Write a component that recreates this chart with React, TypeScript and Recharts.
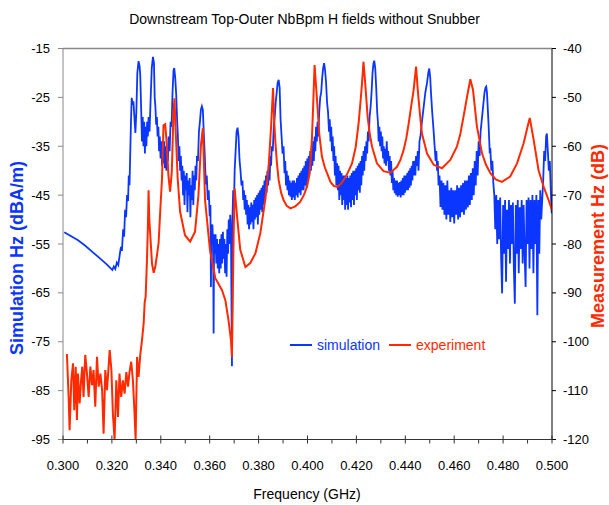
import { LineChart, Line, XAxis, YAxis, ReferenceLine, Legend } from 'recharts';

const BLUE = '#0a36ff';
const RED = '#ff2a00';

// frequency axis ticks (GHz), labels every 0.020
const freqTicks = [
  0.3, 0.31, 0.32, 0.33, 0.34, 0.35, 0.36, 0.37, 0.38, 0.39, 0.4,
  0.41, 0.42, 0.43, 0.44, 0.45, 0.46, 0.47, 0.48, 0.49, 0.5,
];
const simTicks = [-95, -85, -75, -65, -55, -45, -35, -25, -15];
const expTicks = [-120, -110, -100, -90, -80, -70, -60, -50, -40];

// simulation: [GHz, dBA/m]
const simulation: [number, number][] = [
  [0.3005,-52.6],[0.3030,-53.3],[0.3060,-54.2],[0.3090,-55.3],[0.3120,-56.6],[0.3150,-57.9],[0.3180,-59.2],[0.3195,-60.0],
  [0.3202,-60.3],[0.3208,-59.6],[0.3214,-60.1],[0.3220,-58.8],[0.3226,-59.3],[0.3232,-57.2],[0.3237,-55.6],[0.3241,-56.4],
  [0.3246,-52.0],[0.3250,-53.5],[0.3254,-48.0],[0.3258,-49.5],[0.3262,-45.0],[0.3266,-46.2],[0.3269,-41.0],[0.3272,-43.0],
  [0.3275,-36.5],[0.3278,-30.0],[0.3281,-25.1],[0.3285,-26.5],[0.3288,-25.8],[0.3292,-29.0],[0.3296,-32.3],[0.3300,-28.0],
  [0.3304,-20.0],[0.3309,-17.6],[0.3313,-18.5],[0.3316,-20.5],[0.3320,-28.0],[0.3323,-34.0],[0.3326,-29.0],[0.3329,-35.0],
  [0.3332,-30.0],[0.3335,-36.5],[0.3338,-31.0],[0.3341,-35.0],[0.3344,-30.0],[0.3347,-33.0],[0.3350,-29.0],[0.3354,-32.0],
  [0.3358,-26.0],[0.3363,-19.0],[0.3368,-16.7],[0.3372,-18.0],[0.3375,-25.0],[0.3378,-27.0],[0.3381,-30.6],[0.3384,-29.0],
  [0.3387,-33.0],[0.3390,-31.0],[0.3393,-36.0],[0.3396,-33.0],[0.3399,-37.5],[0.3402,-34.0],[0.3405,-39.0],[0.3408,-35.0],
  [0.3411,-38.5],[0.3414,-34.0],[0.3417,-39.5],[0.3420,-35.0],[0.3423,-40.0],[0.3426,-36.0],[0.3429,-38.0],[0.3432,-33.0],
  [0.3436,-36.0],[0.3440,-30.0],[0.3444,-31.0],[0.3448,-24.0],[0.3452,-19.5],[0.3455,-19.0],[0.3459,-21.0],[0.3463,-24.4],
  [0.3467,-30.0],[0.3470,-33.0],[0.3473,-38.0],[0.3476,-35.0],[0.3479,-40.0],[0.3482,-37.0],[0.3485,-42.0],[0.3488,-39.0],
  [0.3491,-45.0],[0.3494,-40.0],[0.3497,-47.0],[0.3500,-41.0],[0.3503,-44.0],[0.3506,-40.5],[0.3509,-48.5],[0.3512,-42.0],
  [0.3515,-45.0],[0.3518,-41.5],[0.3521,-49.5],[0.3524,-43.0],[0.3527,-46.0],[0.3530,-40.0],[0.3533,-47.0],[0.3536,-41.0],
  [0.3539,-44.0],[0.3542,-39.0],[0.3545,-42.0],[0.3548,-37.0],[0.3552,-38.0],[0.3556,-32.0],[0.3560,-30.0],[0.3564,-27.5],
  [0.3568,-26.8],[0.3572,-27.5],[0.3576,-32.6],[0.3580,-37.0],[0.3584,-42.8],[0.3588,-41.0],[0.3592,-46.0],[0.3596,-44.0],
  [0.3600,-49.3],[0.3603,-47.0],[0.3605,-63.8],[0.3607,-52.0],[0.3611,-51.0],[0.3614,-55.0],[0.3616,-73.3],[0.3618,-53.0],
  [0.3621,-57.0],[0.3624,-53.0],[0.3627,-59.0],[0.3630,-54.0],[0.3633,-60.0],[0.3636,-55.0],[0.3639,-61.0],[0.3642,-54.0],
  [0.3645,-60.0],[0.3648,-53.0],[0.3651,-59.0],[0.3654,-52.5],[0.3657,-58.0],[0.3660,-54.0],[0.3663,-61.0],[0.3666,-55.0],
  [0.3669,-61.7],[0.3672,-52.0],[0.3675,-57.0],[0.3678,-50.0],[0.3681,-55.0],[0.3684,-49.0],[0.3687,-53.0],[0.3691,-80.0],
  [0.3693,-50.0],[0.3696,-44.0],[0.3699,-48.0],[0.3702,-40.0],[0.3706,-36.0],[0.3710,-32.0],[0.3714,-31.2],[0.3718,-33.0],
  [0.3722,-37.8],[0.3726,-40.0],[0.3730,-43.0],[0.3734,-42.0],[0.3737,-46.0],[0.3740,-44.0],[0.3743,-48.0],[0.3746,-45.0],
  [0.3749,-49.0],[0.3752,-46.0],[0.3755,-51.0],[0.3758,-47.0],[0.3761,-52.0],[0.3764,-47.5],[0.3767,-51.0],[0.3770,-46.5],
  [0.3773,-50.5],[0.3776,-47.0],[0.3779,-52.0],[0.3782,-46.0],[0.3785,-50.0],[0.3788,-45.5],[0.3791,-49.5],[0.3794,-45.0],
  [0.3797,-51.0],[0.3800,-44.5],[0.3803,-49.0],[0.3806,-44.0],[0.3809,-48.0],[0.3812,-43.5],[0.3815,-48.5],[0.3818,-43.0],
  [0.3821,-47.0],[0.3824,-42.0],[0.3827,-46.0],[0.3830,-41.0],[0.3833,-44.5],[0.3836,-40.0],[0.3839,-43.0],[0.3842,-38.5],
  [0.3845,-42.0],[0.3848,-37.0],[0.3851,-39.0],[0.3854,-35.0],[0.3858,-36.0],[0.3862,-31.0],[0.3866,-29.0],[0.3870,-26.0],
  [0.3874,-24.0],[0.3878,-22.0],[0.3882,-21.4],[0.3886,-23.0],[0.3890,-29.6],[0.3894,-33.0],[0.3898,-36.5],[0.3902,-35.0],
  [0.3906,-40.5],[0.3909,-38.0],[0.3912,-43.0],[0.3915,-40.0],[0.3918,-44.0],[0.3921,-41.0],[0.3924,-45.0],[0.3927,-42.0],
  [0.3930,-45.3],[0.3933,-42.5],[0.3936,-46.0],[0.3939,-42.0],[0.3942,-45.5],[0.3945,-42.0],[0.3948,-46.0],[0.3951,-42.5],
  [0.3954,-45.0],[0.3957,-41.5],[0.3960,-45.5],[0.3963,-41.0],[0.3966,-44.5],[0.3969,-40.5],[0.3972,-45.0],[0.3975,-40.0],
  [0.3978,-44.0],[0.3981,-39.5],[0.3984,-44.0],[0.3987,-39.0],[0.3990,-43.0],[0.3993,-38.0],[0.3996,-43.5],[0.3999,-37.5],
  [0.4002,-42.0],[0.4005,-37.0],[0.4008,-41.0],[0.4011,-36.0],[0.4014,-40.0],[0.4017,-35.0],[0.4020,-39.0],[0.4023,-34.0],
  [0.4026,-38.0],[0.4029,-33.0],[0.4032,-36.0],[0.4035,-31.0],[0.4038,-34.0],[0.4041,-30.0],[0.4044,-33.0],[0.4048,-28.0],
  [0.4052,-25.0],[0.4056,-24.0],[0.4060,-21.0],[0.4064,-19.0],[0.4068,-18.0],[0.4072,-19.5],[0.4076,-22.0],[0.4080,-26.0],
  [0.4084,-28.0],[0.4088,-32.0],[0.4091,-29.5],[0.4094,-34.0],[0.4097,-31.0],[0.4100,-36.0],[0.4103,-33.0],[0.4106,-38.0],
  [0.4109,-35.0],[0.4112,-41.0],[0.4115,-37.0],[0.4118,-43.0],[0.4121,-38.5],[0.4124,-44.0],[0.4127,-39.0],[0.4130,-46.0],
  [0.4133,-40.0],[0.4136,-45.0],[0.4139,-40.5],[0.4142,-47.0],[0.4145,-41.0],[0.4148,-46.0],[0.4151,-41.0],[0.4154,-48.0],
  [0.4157,-41.5],[0.4160,-47.0],[0.4163,-41.0],[0.4166,-48.0],[0.4169,-41.5],[0.4172,-46.5],[0.4175,-41.0],[0.4178,-47.5],
  [0.4181,-40.5],[0.4184,-46.0],[0.4187,-40.0],[0.4190,-47.0],[0.4193,-40.0],[0.4196,-45.0],[0.4199,-39.5],[0.4202,-46.0],
  [0.4205,-39.0],[0.4208,-44.0],[0.4211,-38.5],[0.4214,-44.5],[0.4217,-38.0],[0.4220,-43.0],[0.4223,-37.0],[0.4226,-41.0],
  [0.4229,-36.0],[0.4232,-40.0],[0.4235,-35.0],[0.4238,-38.0],[0.4241,-34.0],[0.4244,-36.5],[0.4247,-32.0],[0.4250,-34.0],
  [0.4254,-29.0],[0.4258,-27.0],[0.4262,-24.0],[0.4266,-20.0],[0.4270,-18.0],[0.4273,-17.5],[0.4277,-19.0],[0.4281,-23.0],
  [0.4285,-28.0],[0.4288,-30.0],[0.4291,-34.0],[0.4294,-31.0],[0.4297,-35.0],[0.4300,-32.0],[0.4303,-36.0],[0.4306,-33.0],
  [0.4309,-37.5],[0.4312,-35.0],[0.4315,-38.5],[0.4318,-35.5],[0.4321,-39.0],[0.4324,-34.0],[0.4327,-38.0],[0.4330,-36.0],
  [0.4333,-40.0],[0.4336,-37.0],[0.4339,-41.0],[0.4342,-38.0],[0.4345,-42.5],[0.4348,-40.0],[0.4351,-44.0],[0.4354,-41.5],
  [0.4357,-44.6],[0.4360,-42.0],[0.4363,-45.0],[0.4366,-42.0],[0.4369,-45.3],[0.4372,-42.5],[0.4375,-45.0],[0.4378,-42.3],
  [0.4381,-45.5],[0.4384,-42.0],[0.4387,-45.0],[0.4390,-41.5],[0.4393,-45.0],[0.4396,-41.0],[0.4399,-44.5],[0.4402,-41.0],
  [0.4405,-44.0],[0.4408,-40.5],[0.4411,-44.0],[0.4414,-40.0],[0.4417,-43.5],[0.4420,-39.5],[0.4423,-43.0],[0.4426,-39.0],
  [0.4429,-42.0],[0.4432,-38.0],[0.4435,-41.0],[0.4438,-38.0],[0.4441,-41.0],[0.4444,-37.0],[0.4448,-39.0],[0.4451,-36.0],
  [0.4454,-40.0],[0.4458,-34.0],[0.4462,-33.0],[0.4468,-30.0],[0.4475,-27.0],[0.4482,-24.0],[0.4489,-22.0],[0.4494,-20.0],
  [0.4498,-19.1],[0.4502,-21.0],[0.4505,-24.0],[0.4510,-28.0],[0.4516,-32.0],[0.4520,-35.0],[0.4524,-38.0],[0.4527,-36.0],
  [0.4530,-40.0],[0.4533,-38.0],[0.4536,-43.0],[0.4540,-41.0],[0.4544,-47.4],[0.4548,-42.0],[0.4552,-48.0],[0.4556,-42.5],
  [0.4560,-49.0],[0.4564,-43.0],[0.4568,-50.0],[0.4572,-42.0],[0.4576,-49.0],[0.4580,-44.0],[0.4584,-50.5],[0.4588,-43.5],
  [0.4592,-49.5],[0.4596,-44.0],[0.4600,-50.8],[0.4604,-44.0],[0.4608,-49.0],[0.4612,-43.0],[0.4616,-50.0],[0.4620,-43.5],
  [0.4624,-49.5],[0.4628,-43.0],[0.4632,-48.5],[0.4636,-42.5],[0.4640,-49.0],[0.4644,-42.0],[0.4648,-48.0],[0.4652,-42.0],
  [0.4656,-47.5],[0.4660,-41.0],[0.4664,-47.0],[0.4668,-40.5],[0.4672,-46.0],[0.4676,-39.5],[0.4680,-45.0],[0.4684,-38.0],
  [0.4688,-43.0],[0.4692,-36.0],[0.4696,-41.0],[0.4700,-34.0],[0.4704,-37.0],[0.4708,-32.0],[0.4712,-30.0],[0.4716,-28.0],
  [0.4720,-26.0],[0.4724,-24.0],[0.4728,-23.0],[0.4731,-22.8],[0.4734,-24.0],[0.4737,-27.0],[0.4741,-31.0],[0.4745,-36.0],
  [0.4748,-35.8],[0.4752,-40.0],[0.4756,-38.0],[0.4760,-42.5],[0.4764,-45.0],[0.4768,-52.0],[0.4772,-45.0],[0.4776,-55.0],
  [0.4780,-46.0],[0.4784,-54.0],[0.4788,-45.5],[0.4792,-58.0],[0.4796,-65.1],[0.4800,-47.0],[0.4804,-57.0],[0.4808,-46.0],
  [0.4812,-62.7],[0.4816,-48.0],[0.4820,-56.0],[0.4824,-46.0],[0.4828,-59.0],[0.4832,-47.0],[0.4836,-55.0],[0.4840,-46.5],
  [0.4844,-60.0],[0.4848,-67.2],[0.4852,-47.0],[0.4856,-57.0],[0.4860,-46.0],[0.4864,-61.0],[0.4868,-47.5],[0.4872,-56.0],
  [0.4876,-46.0],[0.4880,-59.0],[0.4884,-47.0],[0.4888,-57.0],[0.4892,-63.8],[0.4896,-46.0],[0.4900,-55.0],[0.4904,-45.5],
  [0.4908,-60.0],[0.4912,-46.0],[0.4916,-56.0],[0.4920,-45.0],[0.4924,-61.0],[0.4928,-46.0],[0.4932,-55.0],[0.4936,-45.0],
  [0.4940,-69.6],[0.4944,-46.0],[0.4948,-57.0],[0.4952,-44.0],[0.4956,-50.0],[0.4960,-46.0],[0.4964,-42.0],[0.4968,-36.0],
  [0.4972,-38.0],[0.4976,-33.0],[0.4979,-32.4],[0.4983,-36.0],[0.4987,-40.0],[0.4991,-38.0],[0.4995,-44.0],[0.4999,-48.7],
];

// experiment: [GHz, dB]
const experiment: [number, number][] = [
  [0.3016,-102.5],[0.3023,-111.3],[0.3027,-118.1],[0.3034,-107.9],[0.3041,-104.4],[0.3046,-114.0],[0.3052,-105.1],[0.3057,-116.0],
  [0.3061,-106.5],[0.3068,-112.6],[0.3074,-107.9],[0.3079,-105.1],[0.3084,-111.3],[0.3091,-102.7],[0.3098,-106.5],[0.3105,-111.3],
  [0.3112,-105.1],[0.3119,-108.9],[0.3125,-105.8],[0.3132,-113.3],[0.3139,-103.1],[0.3146,-109.2],[0.3153,-106.5],[0.3160,-109.9],
  [0.3166,-118.8],[0.3173,-105.8],[0.3180,-109.9],[0.3191,-101.7],[0.3198,-105.8],[0.3204,-114.7],[0.3211,-120.0],[0.3218,-107.9],
  [0.3225,-115.4],[0.3231,-106.5],[0.3238,-111.3],[0.3245,-107.9],[0.3252,-110.6],[0.3259,-106.2],[0.3266,-109.2],[0.3272,-106.2],
  [0.3279,-104.1],[0.3286,-107.9],[0.3292,-114.0],[0.3297,-120.0],[0.3303,-103.1],[0.3309,-107.2],[0.3316,-102.7],[0.3323,-99.7],
  [0.3330,-96.2],[0.3334,-92.0],[0.3338,-90.8],[0.3343,-83.9],[0.3347,-77.0],[0.3350,-69.0],[0.3353,-75.0],[0.3358,-79.0],
  [0.3364,-84.0],[0.3371,-85.9],[0.3378,-84.5],[0.3385,-82.0],[0.3391,-79.8],[0.3398,-73.0],[0.3405,-66.6],[0.3411,-55.7],
  [0.3418,-55.5],[0.3425,-59.8],[0.3431,-65.9],[0.3438,-69.3],[0.3445,-65.2],[0.3452,-52.9],[0.3456,-50.2],[0.3461,-57.0],
  [0.3469,-66.6],[0.3479,-73.4],[0.3499,-78.2],[0.3520,-79.5],[0.3540,-77.5],[0.3554,-70.0],[0.3564,-59.8],[0.3572,-56.3],
  [0.3581,-71.0],[0.3601,-81.2],[0.3623,-87.0],[0.3650,-89.4],[0.3664,-91.5],[0.3677,-95.6],[0.3687,-99.7],[0.3691,-103.1],
  [0.3698,-77.8],[0.3702,-68.6],[0.3712,-74.4],[0.3725,-81.2],[0.3746,-84.7],[0.3766,-83.9],[0.3787,-81.9],[0.3807,-77.8],
  [0.3827,-71.0],[0.3841,-64.2],[0.3851,-56.0],[0.3859,-48.1],[0.3864,-55.0],[0.3868,-58.7],[0.3875,-63.5],[0.3882,-66.9],
  [0.3892,-69.5],[0.3902,-71.0],[0.3915,-72.2],[0.3930,-72.7],[0.3950,-72.3],[0.3970,-71.4],[0.3985,-70.0],[0.3998,-68.3],
  [0.4006,-66.3],[0.4012,-63.5],[0.4018,-58.5],[0.4023,-51.9],[0.4029,-43.4],[0.4034,-47.0],[0.4039,-50.5],[0.4048,-57.4],
  [0.4059,-62.1],[0.4070,-64.2],[0.4080,-65.5],[0.4094,-67.3],[0.4107,-68.1],[0.4121,-68.3],[0.4135,-67.8],[0.4148,-66.9],
  [0.4165,-65.4],[0.4182,-63.5],[0.4197,-60.2],[0.4209,-55.3],[0.4217,-50.8],[0.4223,-47.1],[0.4229,-42.7],[0.4236,-47.1],
  [0.4246,-54.0],[0.4255,-57.6],[0.4264,-60.1],[0.4284,-63.5],[0.4311,-65.1],[0.4339,-65.4],[0.4366,-64.2],[0.4380,-62.8],
  [0.4393,-60.8],[0.4404,-58.4],[0.4414,-55.3],[0.4425,-51.5],[0.4434,-48.5],[0.4444,-43.7],[0.4451,-48.5],[0.4460,-53.5],
  [0.4468,-57.4],[0.4489,-61.5],[0.4516,-63.8],[0.4550,-64.5],[0.4584,-62.8],[0.4611,-60.1],[0.4625,-57.5],[0.4638,-54.0],
  [0.4655,-49.2],[0.4666,-46.3],[0.4677,-48.5],[0.4693,-56.0],[0.4714,-61.5],[0.4730,-63.8],[0.4748,-65.5],[0.4770,-66.8],
  [0.4795,-67.3],[0.4829,-66.2],[0.4857,-63.5],[0.4884,-59.4],[0.4900,-56.0],[0.4909,-54.2],[0.4925,-58.7],[0.4945,-64.9],
  [0.4966,-68.3],[0.4986,-71.0],[0.5000,-73.1],
];

const simData = simulation.map(([x, y]) => ({ x, y }));
const expData = experiment.map(([x, y]) => ({ x, y }));

const FreqTick = (props: any) => {
  const { x, y, payload } = props;
  const major = Math.round(payload.value * 1000) % 20 === 0;
  return (
    <g>
      <line x1={x} x2={x} y1={major ? y - 4 : y} y2={y + 4} stroke="#333" />
      {major && (
        <text x={x} y={y + 30} textAnchor="middle" fontSize={13} fill="#000">
          {payload.value.toFixed(3)}
        </text>
      )}
    </g>
  );
};

const LegendBox = () => (
  <div style={{ display: 'flex', alignItems: 'center', fontSize: 14, whiteSpace: 'nowrap' }}>
    <svg width={24} height={4}><line x1={0} x2={22} y1={2} y2={2} stroke={BLUE} strokeWidth={2} /></svg>
    <span style={{ color: BLUE, marginLeft: 3, marginRight: 9 }}>simulation</span>
    <svg width={24} height={4}><line x1={0} x2={22} y1={2} y2={2} stroke={RED} strokeWidth={2} /></svg>
    <span style={{ color: RED, marginLeft: 3 }}>experiment</span>
  </div>
);

export default function App() {
  return (
    <div
      style={{
        position: 'absolute', left: 0, top: 0, width: 609, height: 505, background: '#fff',
        fontFamily: '"Liberation Sans", Arial, sans-serif',
      }}
    >
      <div style={{ position: 'absolute', left: 0, width: 609, top: 11, textAlign: 'center', fontSize: 14, color: '#000' }}>
        Downstream Top-Outer NbBpm H fields without Snubber
      </div>
      <LineChart width={609} height={505} margin={{ top: 48.5, right: 0, bottom: 35.5, left: 0 }}>
        <XAxis
          xAxisId="f"
          type="number"
          dataKey="x"
          domain={[0.3, 0.5]}
          ticks={freqTicks}
          interval={0}
          height={30}
          tickSize={0}
          tickMargin={0}
          tickLine={false}
          tick={<FreqTick />}
          axisLine={{ stroke: '#333' }}
          allowDataOverflow
        />
        <YAxis
          yAxisId="sim"
          domain={[-95, -15]}
          ticks={simTicks}
          interval={0}
          width={63}
          tickSize={5}
          tickMargin={8}
          axisLine={{ stroke: '#888' }}
          tickLine={{ stroke: '#888' }}
          tick={{ fill: '#000', fontSize: 13 }}
          allowDataOverflow
        />
        <YAxis
          yAxisId="exp"
          orientation="right"
          domain={[-120, -40]}
          ticks={expTicks}
          interval={0}
          width={57}
          tickSize={4}
          tickMargin={7}
          axisLine={{ stroke: '#000' }}
          tickLine={{ stroke: '#000' }}
          tick={{ fill: '#000', fontSize: 13 }}
          allowDataOverflow
        />
        <ReferenceLine xAxisId="f" yAxisId="sim" y={-15} stroke="#888" strokeWidth={1.5} />
        <Line
          xAxisId="f"
          yAxisId="sim"
          data={simData}
          dataKey="y"
          type="linear"
          stroke={BLUE}
          strokeWidth={1.8}
          dot={false}
          activeDot={false}
          isAnimationActive={false}
          name="simulation"
        />
        <Line
          xAxisId="f"
          yAxisId="exp"
          data={expData}
          dataKey="y"
          type="linear"
          stroke={RED}
          strokeWidth={2}
          dot={false}
          activeDot={false}
          isAnimationActive={false}
          name="experiment"
        />
        <Legend
          layout="horizontal"
          verticalAlign="middle"
          align="center"
          content={<LegendBox />}
          wrapperStyle={{ position: 'absolute', left: 290, top: 337, width: 'auto' }}
        />
      </LineChart>
      <div
        style={{
          position: 'absolute', left: 307, top: 494, transform: 'translate(-50%, -50%)',
          fontSize: 14, color: '#000', whiteSpace: 'nowrap',
        }}
      >
        Frequency (GHz)
      </div>
      <div
        style={{
          position: 'absolute', left: 17, top: 258, transform: 'translate(-50%, -50%) rotate(-90deg)',
          fontSize: 18, fontWeight: 'bold', color: BLUE, whiteSpace: 'nowrap',
        }}
      >
        Simulation Hz (dBA/m)
      </div>
      <div
        style={{
          position: 'absolute', left: 598, top: 236, transform: 'translate(-50%, -50%) rotate(-90deg)',
          fontSize: 18, fontWeight: 'bold', color: RED, whiteSpace: 'nowrap',
        }}
      >
        Measurement Hz (dB)
      </div>
    </div>
  );
}
